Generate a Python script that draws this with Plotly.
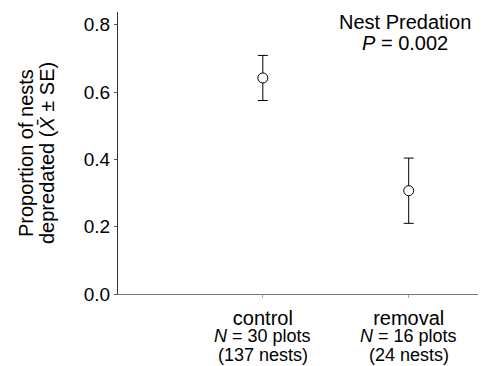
import plotly.graph_objects as go

categories = ["control", "removal"]
n_plots = [30, 16]
n_nests = [137, 24]
means = [0.642, 0.307]
se = [0.067, 0.097]
y_ticks = [0.0, 0.2, 0.4, 0.6, 0.8]

xpos = [1, 2]
FONT = "Liberation Sans, Arial, sans-serif"

fig = go.Figure()
fig.add_trace(go.Scatter(
    x=xpos, y=means, mode="markers",
    marker=dict(symbol="circle", size=10, color="white", line=dict(width=1, color="black")),
    error_y=dict(type="data", array=se, visible=True, color="black", thickness=1, width=5),
    showlegend=False,
))

# sample-size lines under each category
for x, p, n in zip(xpos, n_plots, n_nests):
    fig.add_annotation(x=x, y=0, xref="x", yref="paper", yanchor="middle", xanchor="center",
                       yshift=-42, showarrow=False, text=f"<i>N</i> = {p} plots",
                       font=dict(size=18, color="black", family=FONT))
    fig.add_annotation(x=x, y=0, xref="x", yref="paper", yanchor="middle", xanchor="center",
                       yshift=-61, showarrow=False, text=f"({n} nests)",
                       font=dict(size=18, color="black", family=FONT))

fig.add_annotation(x=0.78, y=0.965, xref="paper", yref="paper", xanchor="center", yanchor="middle",
                   text="Nest Predation", showarrow=False, font=dict(size=20, color="black", family=FONT))
fig.add_annotation(x=0.78, y=0.89, xref="paper", yref="paper", xanchor="center", yanchor="middle",
                   text="<i>P</i> = 0.002", showarrow=False, font=dict(size=20, color="black", family=FONT))

# y-axis title (two lines)
fig.add_annotation(x=0, y=0.5, xref="paper", yref="paper", xanchor="center", yanchor="middle",
                   xshift=-92, textangle=-90, showarrow=False, text="Proportion of nests",
                   font=dict(size=20, color="black", family=FONT))
fig.add_annotation(x=0, y=0.5, xref="paper", yref="paper", xanchor="center", yanchor="middle",
                   xshift=-71, textangle=-90, showarrow=False, text="depredated (<i>X̄</i> ± SE)",
                   font=dict(size=20, color="black", family=FONT))

fig.update_layout(
    width=478, height=358,
    margin=dict(l=110, r=0, t=4, b=72),
    paper_bgcolor="white", plot_bgcolor="white",
    font=dict(family=FONT, size=18, color="black"),
    xaxis=dict(
        range=[0.007, 2.53], tickvals=xpos, ticktext=categories, automargin=False,
        showline=True, linecolor="#777", linewidth=1, showgrid=False, zeroline=False,
        ticks="outside", ticklen=3, tickcolor="#aaa", tickfont=dict(size=20),
        ticklabelstandoff=3,
    ),
    yaxis=dict(
        range=[0, 0.838], tickvals=y_ticks, ticktext=[f"{v:.1f}" for v in y_ticks], automargin=False,
        showline=True, linecolor="#333", linewidth=1, showgrid=False, zeroline=False,
        ticks="outside", ticklen=3, tickcolor="#555", tickfont=dict(size=19),
    ),
)

fig.write_html("out.html")
